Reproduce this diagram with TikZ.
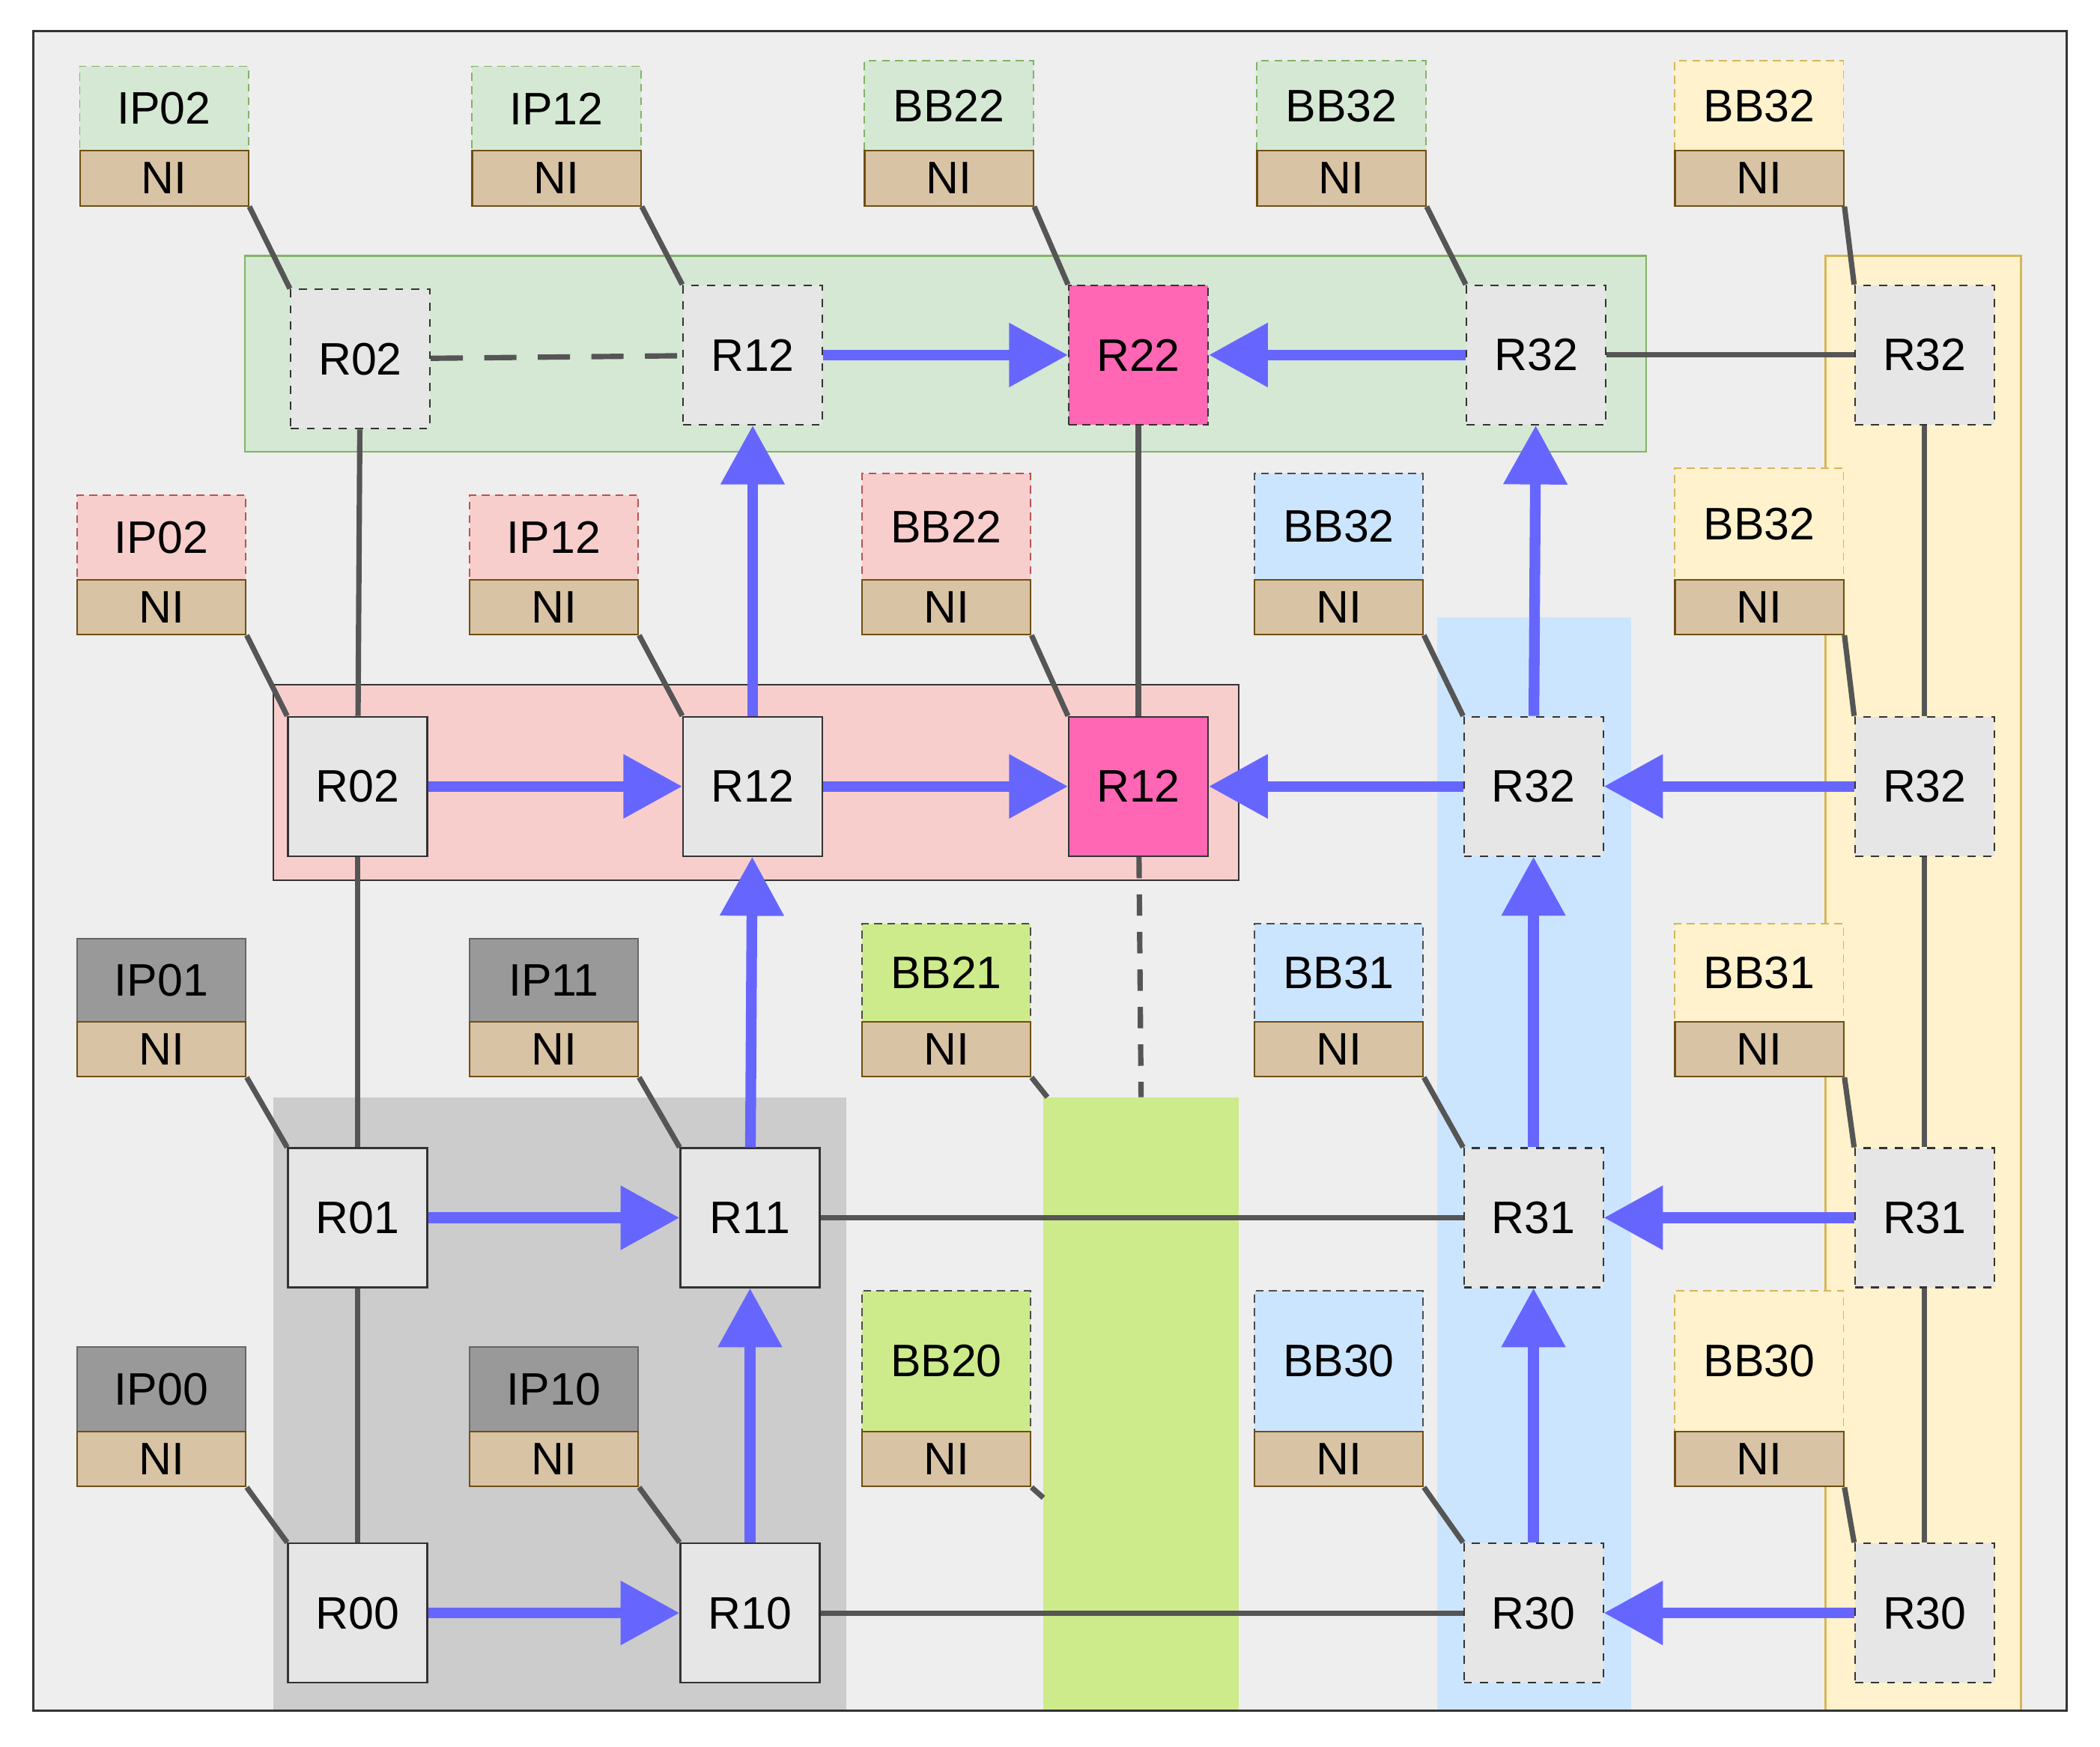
\documentclass[tikz,border=0pt]{standalone}
\usepackage{fontspec}
\setmainfont{Liberation Sans}
\usetikzlibrary{arrows.meta}
\definecolor{bgc}{HTML}{EEEEEE}
\definecolor{gfill}{HTML}{D5E8D4}\definecolor{gline}{HTML}{82B366}
\definecolor{yfill}{HTML}{FFF2CC}\definecolor{yline}{HTML}{D6B656}
\definecolor{pfill}{HTML}{F8CECC}\definecolor{pline}{HTML}{B85450}
\definecolor{bfill}{HTML}{CCE5FF}
\definecolor{lfill}{HTML}{CDEB8B}
\definecolor{nfill}{HTML}{D9C3A5}\definecolor{nline}{HTML}{6F4E12}
\definecolor{rfill}{HTML}{E6E6E6}
\definecolor{hot}{HTML}{FF66B3}
\definecolor{arr}{HTML}{6666FF}
\definecolor{ln}{HTML}{555555}
\tikzset{
 every node/.style={font=\fontsize{17}{20}\selectfont, inner sep=0pt},
 rt/.style={draw=black!80, fill=rfill, minimum size=52pt, line width=0.6pt},
 rtd/.style={rt, dashed},
 hotr/.style={rt, fill=hot},
 lab/.style={minimum width=63pt, line width=0.5pt},
 gr/.style={lab, fill=gfill, draw=gline, densely dashed},
 pk/.style={lab, fill=pfill, draw=pline, densely dashed},
 bl/.style={lab, fill=bfill, draw=black!70, densely dashed},
 ye/.style={lab, fill=yfill, draw=yline, densely dashed},
 li/.style={lab, fill=lfill, draw=black!70, densely dashed},
 gy/.style={lab, fill=black!40, draw=black!60},
 ni/.style={draw=nline, fill=nfill, minimum width=63pt, minimum height=20.5pt, line width=0.6pt},
 gl/.style={draw=ln, line width=2pt},
 ba/.style={draw=arr, line width=4pt, -{Triangle[length=22pt,width=23pt]}},
}
\newcommand\blk[6]{%
 \node[#6,anchor=north west,minimum height={(#4-#3)*0.5pt}] (#1) at (#2,#3) {#5};
 \node[ni,anchor=north west] (#1n) at (#2,#4) {NI};}
\begin{document}
\begin{tikzpicture}[x=0.5pt,y=-0.5pt]
\useasboundingbox (0,0) rectangle (1568,1304);
\fill[bgc] (25,23) rectangle (1543,1277);
\filldraw[fill=gfill,draw=gline,line width=0.6pt] (183,191) rectangle (1229,337);
\filldraw[fill=yfill,draw=yline,line width=0.6pt] (1363,191) rectangle (1509,1277);
\filldraw[fill=pfill,draw=black!80,line width=0.6pt] (204,511) rectangle (925,657);
\fill[bfill] (1073,461) rectangle (1218,1277);
\fill[black!20] (204,819) rectangle (632,1277);
\fill[lfill] (779,819) rectangle (925,1277);
\draw[black!80,line width=0.8pt] (25,23) rectangle (1543,1277);
% routers
\node[rtd] (a02) at (269,268) {R02};
\node[rtd] (a12) at (562,265) {R12};
\node[hotr,densely dashed] (a22) at (850,265) {R22};
\node[rtd] (a32) at (1147,265) {R32};
\node[rtd] (a42) at (1437,265) {R32};
\node[rt] (b02) at (267,587) {R02};
\node[rt] (b12) at (562,587) {R12};
\node[hotr] (b22) at (850,587) {R12};
\node[rtd] (b32) at (1145,587) {R32};
\node[rtd] (b42) at (1437,587) {R32};
\node[rt] (r01) at (267,909) {R01};
\node[rt] (r11) at (560,909) {R11};
\node[rtd] (r31) at (1145,909) {R31};
\node[rtd] (r41) at (1437,909) {R31};
\node[rt] (r00) at (267,1204) {R00};
\node[rt] (r10) at (560,1204) {R10};
\node[rtd] (r30) at (1145,1204) {R30};
\node[rtd] (r40) at (1437,1204) {R30};
% blocks
\blk{t1}{59}{49}{112}{IP02}{gr}
\blk{t2}{352}{49}{112}{IP12}{gr}
\blk{t3}{645}{45}{112}{BB22}{gr}
\blk{t4}{938}{45}{112}{BB32}{gr}
\blk{t5}{1250}{45}{112}{BB32}{ye}
\blk{s1}{57}{369}{432}{IP02}{pk}
\blk{s2}{350}{369}{432}{IP12}{pk}
\blk{s3}{643}{353}{432}{BB22}{pk}
\blk{s4}{936}{353}{432}{BB32}{bl}
\blk{s5}{1250}{349}{432}{BB32}{ye}
\blk{u1}{57}{700}{762}{IP01}{gy}
\blk{u2}{350}{700}{762}{IP11}{gy}
\blk{u3}{643}{689}{762}{BB21}{li}
\blk{u4}{936}{689}{762}{\raisebox{-9pt}{BB31}}{bl}
\blk{u5}{1250}{689}{762}{\raisebox{-9pt}{BB31}}{ye}
\blk{v1}{57}{1005}{1068}{IP00}{gy}
\blk{v2}{350}{1005}{1068}{IP10}{gy}
\blk{v3}{643}{963}{1068}{BB20}{li}
\blk{v4}{936}{963}{1068}{BB30}{bl}
\blk{v5}{1250}{963}{1068}{BB30}{ye}
\coordinate (lt) at (852,819);
\coordinate (l1) at (782,819);
\coordinate (l2) at (779,1118);
% NI connectors
\draw[gl] (t1n.south east) -- (a02.north west);
\draw[gl] (t2n.south east) -- (a12.north west);
\draw[gl] (t3n.south east) -- (a22.north west);
\draw[gl] (t4n.south east) -- (a32.north west);
\draw[gl] (t5n.south east) -- (a42.north west);
\draw[gl] (s1n.south east) -- (b02.north west);
\draw[gl] (s2n.south east) -- (b12.north west);
\draw[gl] (s3n.south east) -- (b22.north west);
\draw[gl] (s4n.south east) -- (b32.north west);
\draw[gl] (s5n.south east) -- (b42.north west);
\draw[gl] (u1n.south east) -- (r01.north west);
\draw[gl] (u2n.south east) -- (r11.north west);
\draw[gl] (u3n.south east) -- (l1);
\draw[gl] (u4n.south east) -- (r31.north west);
\draw[gl] (u5n.south east) -- (r41.north west);
\draw[gl] (v1n.south east) -- (r00.north west);
\draw[gl] (v2n.south east) -- (r10.north west);
\draw[gl] (v3n.south east) -- (l2);
\draw[gl] (v4n.south east) -- (r30.north west);
\draw[gl] (v5n.south east) -- (r40.north west);
% gray links
\draw[gl,dash pattern=on 12pt off 8pt] (a02) -- (a12);
\draw[gl] (a32) -- (a42);
\draw[gl] (a02) -- (b02);
\draw[gl] (a22) -- (b22);
\draw[gl] (a42) -- (b42);
\draw[gl,dash pattern=on 8pt off 6pt] (b22) -- (lt);
\draw[gl] (b02) -- (r01);
\draw[gl] (b42) -- (r41);
\draw[gl] (r11) -- (r31);
\draw[gl] (r01) -- (r00);
\draw[gl] (r41) -- (r40);
\draw[gl] (r10) -- (r30);
% blue arrows
\draw[ba] (a12) -- (a22);
\draw[ba] (a32) -- (a22);
\draw[ba] (b12) -- (a12);
\draw[ba] (b32) -- (a32);
\draw[ba] (b02) -- (b12);
\draw[ba] (b12) -- (b22);
\draw[ba] (b32) -- (b22);
\draw[ba] (b42) -- (b32);
\draw[ba] (r11) -- (b12);
\draw[ba] (r31) -- (b32);
\draw[ba] (r01) -- (r11);
\draw[ba] (r41) -- (r31);
\draw[ba] (r10) -- (r11);
\draw[ba] (r30) -- (r31);
\draw[ba] (r00) -- (r10);
\draw[ba] (r40) -- (r30);
\end{tikzpicture}
\end{document}
